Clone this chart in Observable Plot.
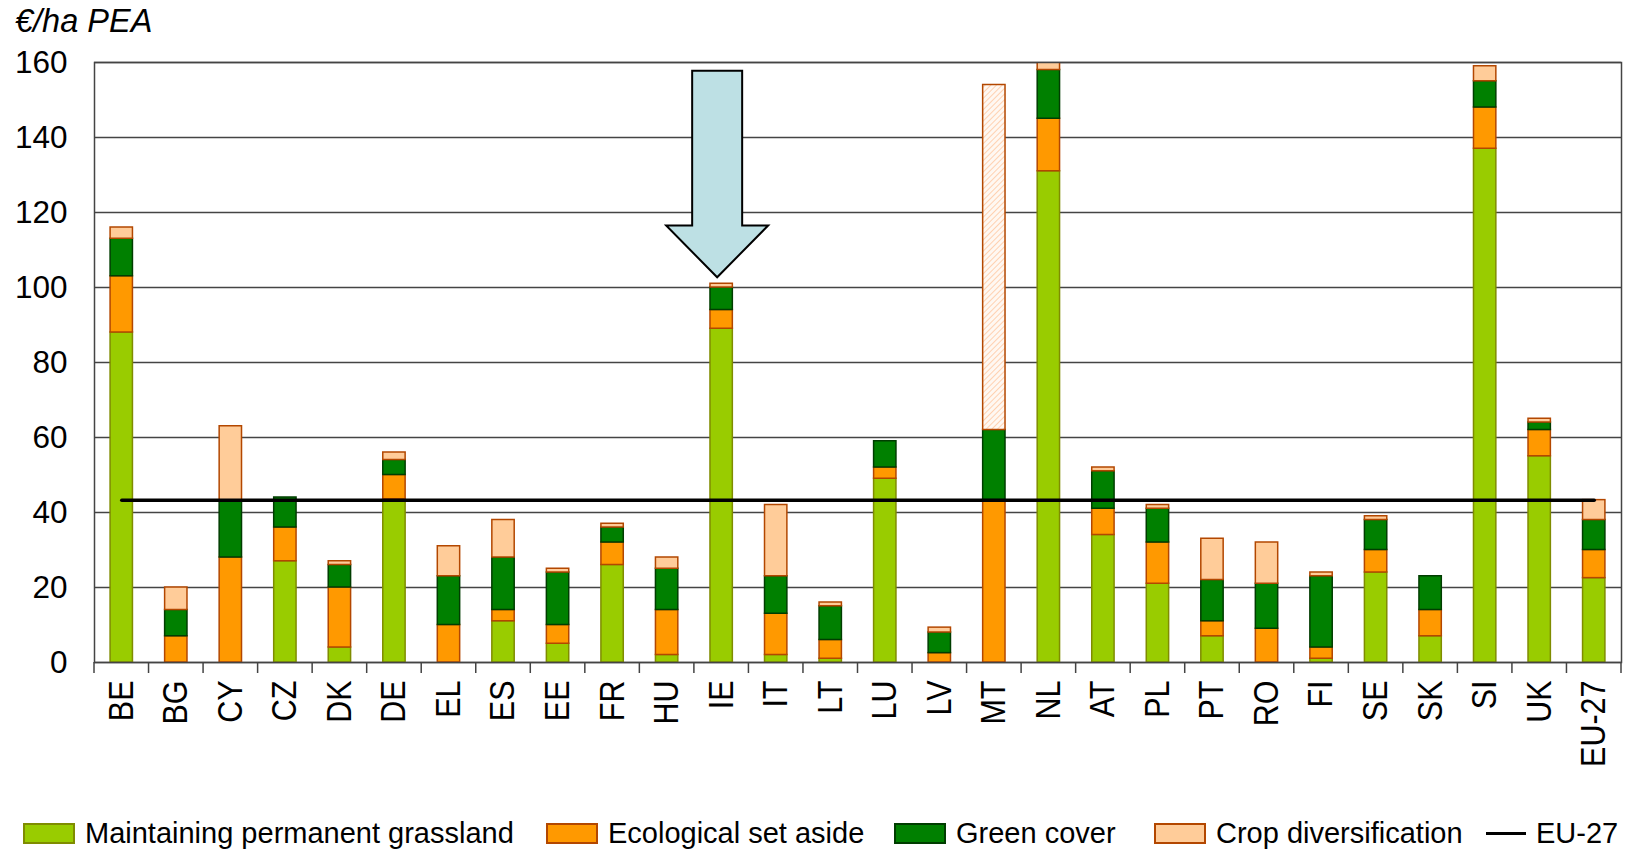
<!DOCTYPE html>
<html>
<head>
<meta charset="utf-8">
<script src="https://cdn.jsdelivr.net/npm/d3@7"></script>
<script src="https://cdn.jsdelivr.net/npm/@observablehq/plot@0.6"></script>
<style>
  html, body { margin: 0; padding: 0; background: #fff; }
  body { position: relative; width: 1650px; height: 850px; overflow: hidden; font-family: "Liberation Sans", Arial, sans-serif; color: #000; }
  #title { height: 40px; line-height: 42px; padding-left: 15px; font-size: 32.5px; font-style: italic; }
  .item { position: absolute; top: 813px; height: 40px; display: flex; align-items: center; gap: 10px; white-space: nowrap; font-size: 29px; }
  .sw { width: 52px; height: 21px; box-sizing: border-box; border: 2px solid; }
  .ln { width: 40px; height: 3px; background: #000; }
</style>
</head>
<body>
<div id="title">€/ha PEA</div>
<div id="chart"></div>
<div id="legend"></div>
<script>
// ---- data ----
const countries = ["BE","BG","CY","CZ","DK","DE","EL","ES","EE","FR","HU","IE","IT","LT","LU","LV","MT","NL","AT","PL","PT","RO","FI","SE","SK","SI","UK","EU-27"];
const grassland = [88, 0, 0, 27, 4, 43.5, 0, 11, 5, 26, 2, 89, 2, 1, 49, 0, 0, 131, 34, 21, 7, 0, 1, 24, 7, 137, 55, 22.5];
const setAside  = [15, 7, 28, 9, 16, 6.5, 10, 3, 5, 6, 12, 5, 11, 5, 3, 2.5, 43.3, 14, 7, 11, 4, 9, 3, 6, 7, 11, 7, 7.5];
const greenCover = [10, 7, 15, 8, 6, 4, 13, 14, 14, 4, 11, 6, 10, 9, 7, 5.5, 18.7, 13, 10, 9, 11, 12, 19, 8, 9, 7, 2, 8];
const cropDiv   = [3, 6, 20, 0, 1, 2, 8, 10, 1, 1, 3, 1, 19, 1, 0, 1.3, 92, 3, 1, 1, 11, 11, 1, 1, 0, 4, 1, 5.3];
const seriesNames = ["Maintaining permanent grassland", "Ecological set aside", "Green cover", "Crop diversification"];
const seriesValues = [grassland, setAside, greenCover, cropDiv];
const seriesFills = ["#99cc00", "#ff9900", "#008000", "#ffcc99"];
const seriesStrokes = ["#7f8c00", "#b34700", "#003d00", "#b34700"];
const hatchedCountry = "MT";          // crop diversification bar drawn hatched
const eu27Level = 43.3;
const eu27Label = "EU-27";
const yTicks = [0, 20, 40, 60, 80, 100, 120, 140, 160];
// block arrow annotation (y values in €/ha)
const arrowTarget = "IE";
const arrowTop = 157.7, arrowNeck = 116.4, arrowTip = 102.6;

// ---- build table ----
const rows = countries.flatMap((c, i) =>
  seriesValues.map((vals, s) => ({country: c, s, value: vals[i]}))
).filter(d => d.value > 0);
const euRows = countries.map(c => ({country: c, v: eu27Level}));

const W = 1650, H = 745;
const M = {top: 22, right: 29, bottom: 123, left: 94};

function boundaryTicks(index, scales, values, dims) {
  const n = countries.length;
  const x0 = dims.marginLeft, x1 = dims.width - dims.marginRight;
  const step = (x1 - x0) / n;
  const yb = dims.height - dims.marginBottom;
  const g = d3.create("svg:g").attr("stroke", "#444").attr("stroke-width", 1.5);
  for (let i = 0; i <= n; i++) {
    g.append("line").attr("x1", x0 + i * step).attr("x2", x0 + i * step).attr("y1", yb).attr("y2", yb + 11);
  }
  return g.node();
}

function blockArrow(index, scales, values, dims) {
  const n = countries.length;
  const x0 = dims.marginLeft, x1 = dims.width - dims.marginRight;
  const step = (x1 - x0) / n;
  const cx = x0 + (countries.indexOf(arrowTarget) + 0.5) * step - 4;
  const y = scales.y;
  const shaft = 25, head = 51;
  const yt = y(arrowTop), yn = y(arrowNeck), yp = y(arrowTip);
  const pts = [[cx - shaft, yt], [cx + shaft, yt], [cx + shaft, yn], [cx + head, yn], [cx, yp], [cx - head, yn], [cx - shaft, yn]];
  const g = d3.create("svg:g");
  g.append("path").attr("d", "M" + pts.map(p => p.join(",")).join("L") + "Z")
    .attr("fill", "#bde0e4").attr("stroke", "#000").attr("stroke-width", 2).attr("stroke-linejoin", "miter");
  return g.node();
}

const svg = Plot.plot({
  width: W, height: H,
  marginTop: M.top, marginRight: M.right, marginBottom: M.bottom, marginLeft: M.left,
  style: {fontFamily: "Liberation Sans, Arial, sans-serif", fontSize: "28px", color: "#000", background: "#fff"},
  x: {domain: countries, paddingInner: 0.59, paddingOuter: 0.295, round: false, tickSize: 0, tickRotate: -90, tickPadding: 18, label: null},
  y: {domain: [0, 160], ticks: yTicks, tickSize: 0, tickPadding: 27, label: null, tickFormat: d => String(d)},
  color: {type: "identity"},
  marks: [
    Plot.gridY(yTicks, {stroke: "#444", strokeOpacity: 1, strokeWidth: 1.5}),
    Plot.barY(rows, {
      x: "country", y: "value", z: "s",
      fill: d => (d.country === hatchedCountry && d.s === 3) ? "url(#hatch)" : seriesFills[d.s],
      stroke: d => seriesStrokes[d.s],
      strokeWidth: 1.5,
      clip: true
    }),
    Plot.frame({stroke: "#444", strokeWidth: 1.5}),
    boundaryTicks,
    Plot.lineY(euRows, {x: "country", y: "v", stroke: "#000", strokeWidth: 3.5}),
    blockArrow
  ]
});

// hatch pattern for the highlighted bar
const defs = d3.select(svg).insert("defs", ":first-child");
const pat = defs.append("pattern").attr("id", "hatch").attr("patternUnits", "userSpaceOnUse")
  .attr("width", 4).attr("height", 4).attr("patternTransform", "rotate(45)");
pat.append("rect").attr("width", 4).attr("height", 4).attr("fill", "#fff8f2");
pat.append("line").attr("x1", 0).attr("y1", 0).attr("x2", 0).attr("y2", 4).attr("stroke", "#ffc8a0").attr("stroke-width", 1.6);

// y tick labels a bit larger; x tick labels widened across the text direction
d3.select(svg).selectAll('g[aria-label="y-axis tick label"]').attr("font-size", 31.5);
d3.select(svg).selectAll('g[aria-label="x-axis tick label"]').attr("font-size", 30.5);
d3.select(svg).selectAll('g[aria-label="x-axis tick label"] text').each(function() {
  const t = this.getAttribute("transform") || "";
  this.setAttribute("transform", t + " scale(1,1.12)");
});

document.getElementById("chart").appendChild(svg);

// ---- legend ----
const legendX = [23, 546, 894, 1154, 1486];
const legend = d3.select("#legend");
seriesNames.forEach((name, i) => {
  const it = legend.append("div").attr("class", "item").style("left", legendX[i] + "px");
  it.append("div").attr("class", "sw").style("background", seriesFills[i]).style("border-color", seriesStrokes[i]);
  it.append("span").text(name);
});
const euItem = legend.append("div").attr("class", "item").style("left", legendX[4] + "px");
euItem.append("div").attr("class", "ln");
euItem.append("span").text(eu27Label);
</script>
</body>
</html>
